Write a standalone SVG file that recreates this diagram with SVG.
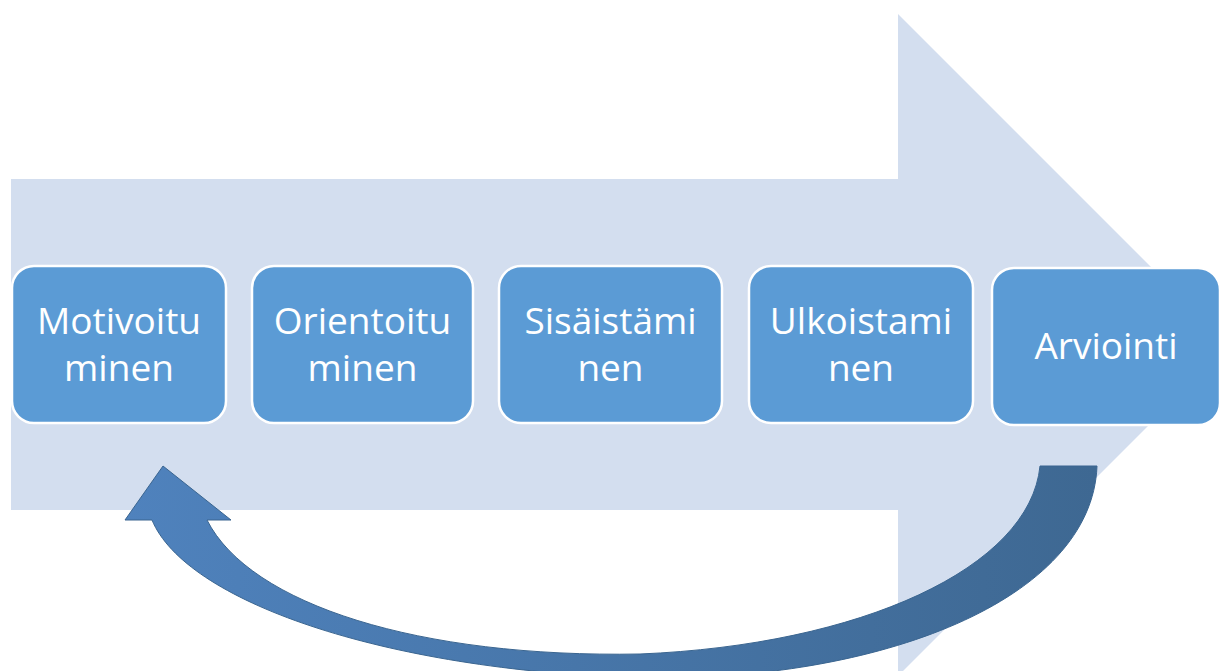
<svg xmlns="http://www.w3.org/2000/svg" width="1219" height="671" viewBox="0 0 1219 671">
<defs>
<style>
.box{fill:#5B9BD5;stroke:#FFFFFF;stroke-width:2.5}
.lbl{font-family:"Open Sans","Liberation Sans",sans-serif;font-size:37px;fill:#FFFFFF;text-anchor:middle}
</style>
<linearGradient id="cg" x1="0" y1="0" x2="1" y2="0">
<stop offset="0" stop-color="#4F82BD"/>
<stop offset="1" stop-color="#3E6892"/>
</linearGradient>
</defs>
<rect width="1219" height="671" fill="#FFFFFF"/>
<g id="bigArrow">
<polygon points="11,179 898,179 898,14 1229,345 898,676 898,510 11,510" fill="#D3DEEF"/>
</g>
<g id="connectors">
<path d="M152,520 C185,600 380,670 640,678 C880,682 1092,600 1097,466 L1040,466 C1030,568 860,645 640,654 C420,658 250,605 207,520 L231,520 L163,466 L125,520 Z" fill="url(#cg)" stroke="#3A6590" stroke-width="1"/>
</g>
<g id="n1"><rect class="box" x="12" y="266" width="214" height="157" rx="22"/><text class="lbl" x="119" y="334">Motivoitu</text><text class="lbl" x="119" y="381">minen</text></g>
<g id="n2"><rect class="box" x="252" y="266" width="221" height="157" rx="22"/><text class="lbl" x="362.5" y="334">Orientoitu</text><text class="lbl" x="362.5" y="381">minen</text></g>
<g id="n3"><rect class="box" x="499" y="266" width="223" height="157" rx="22"/><text class="lbl" x="610.5" y="334">Sisäistämi</text><text class="lbl" x="610.5" y="381">nen</text></g>
<g id="n4"><rect class="box" x="749" y="266" width="224" height="157" rx="22"/><text class="lbl" x="861" y="334">Ulkoistami</text><text class="lbl" x="861" y="381">nen</text></g>
<g id="n5"><rect class="box" x="992" y="268" width="228" height="157" rx="22"/><text class="lbl" x="1106" y="359">Arviointi</text></g>
</svg>
